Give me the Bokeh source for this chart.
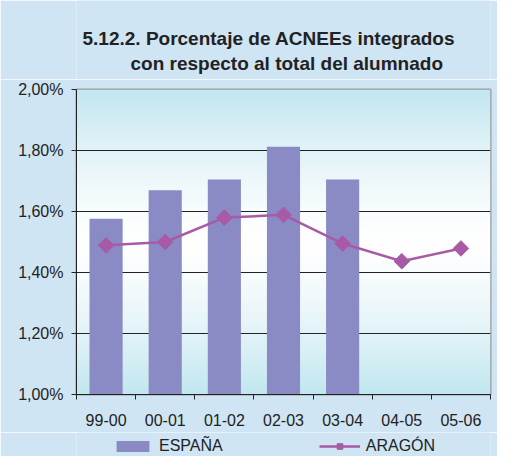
import numpy as np
from bokeh.plotting import figure
from bokeh.layouts import column
from bokeh.models import (FixedTicker, Legend, LegendItem, Label, Range1d, Grid)
from bokeh.embed import file_html
from bokeh.resources import INLINE

categories = ["99-00", "00-01", "01-02", "02-03", "03-04", "04-05", "05-06"]
espana = [1.576, 1.670, 1.705, 1.812, 1.705]
aragon = [1.489, 1.500, 1.580, 1.589, 1.495, 1.437, 1.479]
y_ticks = [1.0, 1.2, 1.4, 1.6, 1.8, 2.0]
y_tick_labels = ["1,00%", "1,20%", "1,40%", "1,60%", "1,80%", "2,00%"]
title_lines = ["5.12.2. Porcentaje de ACNEEs integrados",
               "con respecto al total del alumnado"]
series_names = ["ESPAÑA", "ARAGÓN"]

FONT = "Liberation Sans"
BAR_COLOR = "#8a8ac4"
LINE_COLOR = "#a95aa6"
TEXT_COLOR = "#222222"
BG = "#cfe5f4"
W = 497
BL, BR = 76, 7
FW = W - BL - BR

n = len(categories)
xs_e = list(range(len(espana)))
xs_a = list(range(len(aragon)))


def strip(height):
    f = figure(width=W, height=height, output_backend="svg", toolbar_location=None,
               x_axis_type=None, y_axis_type=None,
               x_range=Range1d(0, FW), y_range=Range1d(0, height),
               min_border_left=BL, min_border_right=BR, min_border_top=0, min_border_bottom=0)
    f.border_fill_color = BG
    f.background_fill_color = BG
    f.outline_line_color = None
    f.xgrid.visible = False
    f.ygrid.visible = False
    return f


# ---- title strip ----
TH = 79
pt = strip(TH)
pt.add_layout(Label(x=6, y=TH - 38, text=title_lines[0], text_font=FONT,
                    text_font_style="bold", text_font_size="19px", text_color=TEXT_COLOR,
                    text_align="left", text_baseline="alphabetic"))
pt.add_layout(Label(x=54, y=TH - 63, text=title_lines[1], text_font=FONT,
                    text_font_style="bold", text_font_size="19px", text_color=TEXT_COLOR,
                    text_align="left", text_baseline="alphabetic"))

# ---- main chart ----
p = figure(width=W, height=353,
           x_range=Range1d(-0.5, n - 0.5), y_range=Range1d(y_ticks[0], y_ticks[-1]),
           output_backend="svg", toolbar_location=None,
           min_border_left=BL, min_border_right=BR, min_border_top=10, min_border_bottom=38)
p.border_fill_color = BG
p.background_fill_color = "white"
p.outline_line_color = "#9a9a9a"
p.outline_line_width = 2

# vertical gradient background for the plot area (style only)
rows = 200
t = np.abs(np.linspace(-1, 1, rows)) ** 1.4
c0 = np.array([255, 255, 255])
c1 = np.array([194, 231, 240])
cols = (c0[None, :] * (1 - t[:, None]) + c1[None, :] * t[:, None]).astype(np.uint32)
img = np.zeros((rows, 2), dtype=np.uint32)
view = img.view(dtype=np.uint8).reshape((rows, 2, 4))
view[:, :, 0] = cols[:, None, 0]
view[:, :, 1] = cols[:, None, 1]
view[:, :, 2] = cols[:, None, 2]
view[:, :, 3] = 255
p.image_rgba(image=[img], x=-0.5, y=y_ticks[0], dw=n, dh=y_ticks[-1] - y_ticks[0], level="image")

p.xgrid.visible = False
p.ygrid.visible = False
p.add_layout(Grid(dimension=1, ticker=FixedTicker(ticks=y_ticks[1:-1]),
                  grid_line_color="#222222", grid_line_width=1))

bars = p.vbar(x=xs_e, top=espana, bottom=y_ticks[0], width=0.56,
              fill_color=BAR_COLOR, line_color=None)
line = p.line(x=xs_a, y=aragon, line_color=LINE_COLOR, line_width=2.5)
pts = p.scatter(x=xs_a, y=aragon, marker="square", angle=np.pi / 4,
                size=11, fill_color=LINE_COLOR, line_color=LINE_COLOR)

xa = p.xaxis[0]
xa.ticker = FixedTicker(ticks=list(range(n)), minor_ticks=[i - 0.5 for i in range(n + 1)])
xa.major_label_overrides = {i: c for i, c in enumerate(categories)}
xa.major_tick_out = 0
xa.major_tick_in = 0
xa.minor_tick_out = 5
xa.minor_tick_in = 0
xa.minor_tick_line_color = TEXT_COLOR
xa.major_label_standoff = 14

ya = p.yaxis[0]
ya.ticker = FixedTicker(ticks=y_ticks)
ya.major_label_overrides = dict(zip(y_ticks, y_tick_labels))
ya.major_tick_out = 5
ya.major_tick_in = 0
ya.minor_tick_out = 0
ya.minor_tick_in = 0
ya.major_label_standoff = 8

for ax in (xa, ya):
    ax.axis_line_color = TEXT_COLOR
    ax.axis_line_width = 1
    ax.major_tick_line_color = TEXT_COLOR
    ax.major_label_text_font = FONT
    ax.major_label_text_font_size = "16px"
    ax.major_label_text_color = TEXT_COLOR

# ---- legend strip ----
pl = strip(24)
lb = pl.vbar(x=xs_e, top=espana, width=0.5, fill_color=BAR_COLOR, line_color=None, visible=False)
ll = pl.line(x=xs_a, y=aragon, line_color=LINE_COLOR, line_width=2.5, visible=False)
lp = pl.scatter(x=xs_a, y=aragon, marker="square", angle=np.pi / 4, size=11,
                fill_color=LINE_COLOR, line_color=LINE_COLOR, visible=False)
legend = Legend(items=[LegendItem(label=series_names[0], renderers=[lb]),
                       LegendItem(label=series_names[1], renderers=[ll, lp])],
                orientation="horizontal", location=(36, 1),
                glyph_width=41, glyph_height=14, spacing=96,
                label_text_font=FONT, label_text_font_size="16px",
                label_text_color=TEXT_COLOR, label_standoff=6,
                background_fill_alpha=0, border_line_alpha=0,
                inactive_fill_alpha=0,
                padding=0, margin=0)
pl.add_layout(legend)

layout = column(pt, p, pl, spacing=0)
open("out.html", "w").write(file_html(layout, INLINE))
